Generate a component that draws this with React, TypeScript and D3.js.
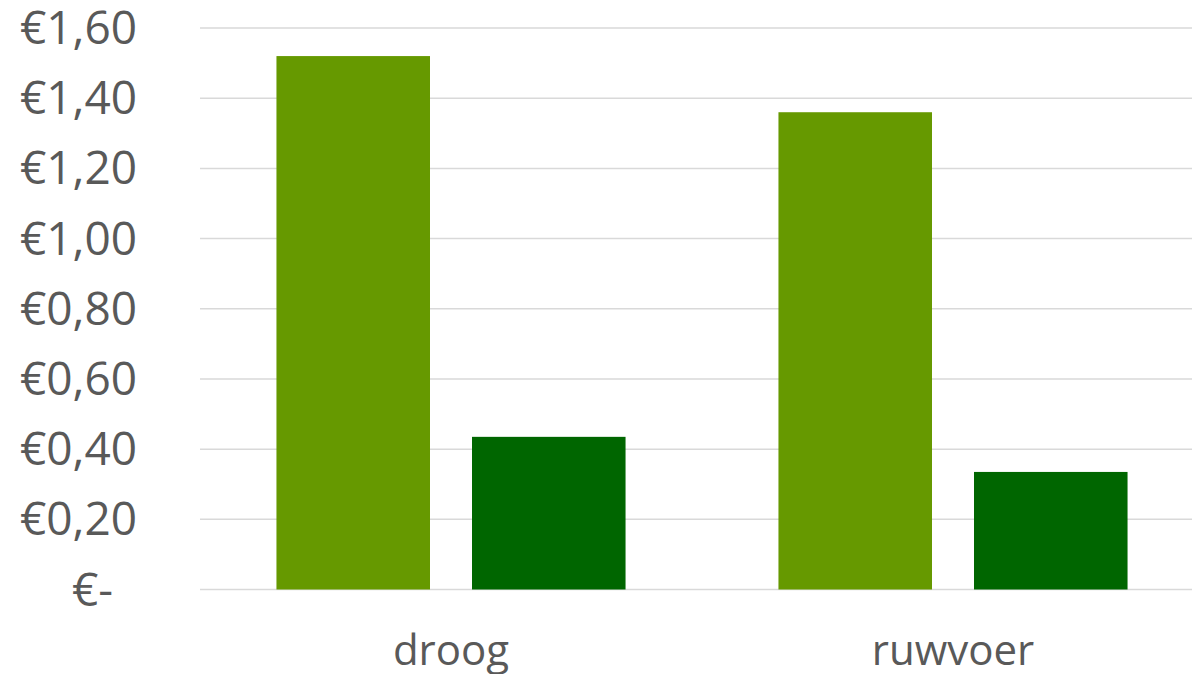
import React from "react";
import * as d3 from "d3";

const categories = ["droog", "ruwvoer"];
const seriesNames = ["serie1", "serie2"];
const serie1 = [1.52, 1.36];
const serie2 = [0.435, 0.335];
const yTicks = [0, 0.2, 0.4, 0.6, 0.8, 1.0, 1.2, 1.4, 1.6];

const colors = ["#669900", "#006600"];

const W = 1192;
const H = 674;
const margin = { left: 200, right: -12, top: 28, bottom: 84.5 };

function fmt(v: number): string {
  if (v === 0) return "€-\u00A0\u00A0";
  return "€" + v.toFixed(2).replace(".", ",");
}

export default function App() {
  const x0 = d3
    .scaleBand<string>()
    .domain(categories)
    .range([margin.left, W - margin.right])
    .padding(0);
  const x1 = d3
    .scaleBand<string>()
    .domain(seriesNames)
    .range([0, x0.bandwidth()])
    .paddingInner(0.2148)
    .paddingOuter(0.391);
  const y = d3
    .scaleLinear()
    .domain([0, 1.6])
    .range([H - margin.bottom, margin.top]);

  const seriesValues = [serie1, serie2];
  const font = "'Open Sans', sans-serif";

  return (
    <svg
      width={W}
      height={H}
      style={{ position: "absolute", left: 0, top: 0, background: "#fff" }}
    >
      {yTicks.map((t) => (
        <line
          key={"g" + t}
          x1={margin.left}
          x2={W}
          y1={y(t)}
          y2={y(t)}
          stroke="#d9d9d9"
          strokeWidth={1.5}
        />
      ))}
      {categories.map((c, ci) =>
        seriesNames.map((s, si) => (
          <rect
            key={c + s}
            x={(x0(c) ?? 0) + (x1(s) ?? 0)}
            width={x1.bandwidth()}
            y={y(seriesValues[si][ci])}
            height={y(0) - y(seriesValues[si][ci])}
            fill={colors[si]}
          />
        ))
      )}
      {yTicks.map((t) => (
        <text
          key={"t" + t}
          x={137}
          y={y(t)}
          dy="0.35em"
          textAnchor="end"
          fontFamily={font}
          fontSize={46}
          fill="#595959"
          style={{ whiteSpace: "pre" }}
        >
          {fmt(t)}
        </text>
      ))}
      {categories.map((c) => (
        <text
          key={"c" + c}
          x={(x0(c) ?? 0) + x0.bandwidth() / 2}
          y={665}
          textAnchor="middle"
          fontFamily={font}
          fontSize={42}
          fill="#595959"
        >
          {c}
        </text>
      ))}
    </svg>
  );
}
